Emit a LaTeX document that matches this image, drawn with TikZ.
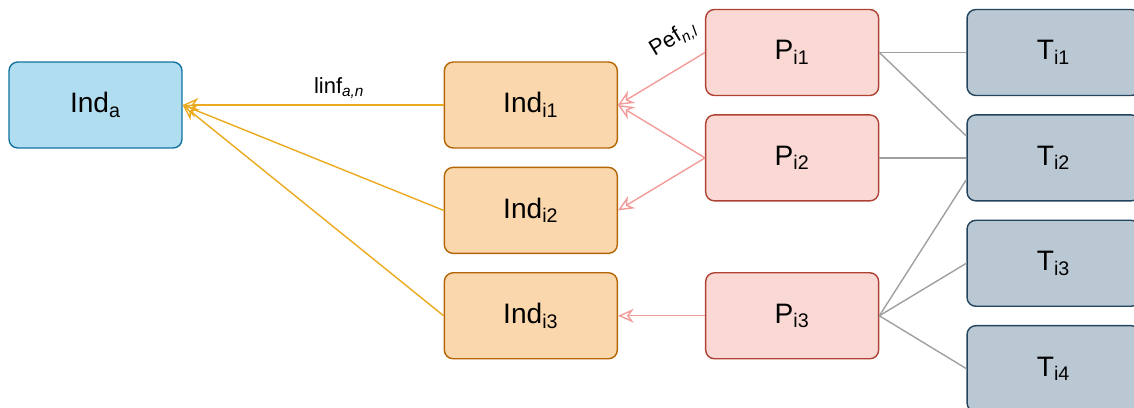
\documentclass[tikz,border=0pt]{standalone}
\usepackage{fontspec}
\setmainfont{Liberation Sans}
\usepackage{xcolor}
\usetikzlibrary{positioning,calc,arrows.meta}

\definecolor{bluefill}{HTML}{B1DDF0}
\definecolor{blueline}{HTML}{10739E}
\definecolor{orangefill}{HTML}{FAD7AC}
\definecolor{orangeline}{HTML}{B46504}
\definecolor{redfill}{HTML}{FAD9D5}
\definecolor{redline}{HTML}{AE4132}
\definecolor{slatefill}{HTML}{BAC8D3}
\definecolor{slateline}{HTML}{23445D}
\definecolor{infarrow}{HTML}{EBAA1F}
\definecolor{efarrow}{HTML}{F19C99}
\definecolor{linkgray}{HTML}{A0A0A0}

\begin{document}
\begin{tikzpicture}[
    x=0.02cm, y=-0.02cm,
    box/.style={rectangle, rounded corners=5pt, minimum width=3.46cm, minimum height=1.72cm, line width=0.8pt,
        font=\fontsize{16}{19}\selectfont, draw=#1line, fill=#1fill},
    box/.default=orange,
    arr/.style={-{Stealth[open, length=9pt, width=8pt]}, line width=0.8pt, color=#1},
    arr/.default=infarrow,
    link/.style={line width=0.8pt, color=linkgray},
    lbl/.style={font=\fontsize{12.5}{15}\selectfont, text=black},
    node distance=0.36cm and 1.74cm
]
    \useasboundingbox (0,0) rectangle (1134,408);

    % Aggregate indicator
    \node[box=blue] (inda) at (95.5,105) {Ind\textsubscript{a}};

    % Indicators
    \node[box, right=5.22cm of inda] (ind1) {Ind\textsubscript{i1}};
    \node[box, below=of ind1] (ind2) {Ind\textsubscript{i2}};
    \node[box, below=of ind2] (ind3) {Ind\textsubscript{i3}};

    % Processes
    \node[box=red, right=of ind1, yshift=1.05cm] (p1) {P\textsubscript{i1}};
    \node[box=red, below=of p1] (p2) {P\textsubscript{i2}};
    \node[box=red, right=of ind3] (p3) {P\textsubscript{i3}};

    % Tasks
    \node[box=slate, right=of p1] (t1) {T\textsubscript{i1}};
    \node[box=slate, below=of t1] (t2) {T\textsubscript{i2}};
    \node[box=slate, below=of t2] (t3) {T\textsubscript{i3}};
    \node[box=slate, below=of t3] (t4) {T\textsubscript{i4}};

    \coordinate (t2up) at ($(t2.north west)!0.25!(t2.south west)$);
    \coordinate (t2low) at ($(t2.north west)!0.75!(t2.south west)$);

    % Influence arrows
    \draw[arr] (ind1.west) -- node[lbl, above, pos=0.4] {linf\textsubscript{\itshape a,n}} (inda.east);
    \draw[arr] (ind2.west) -- (inda.east);
    \draw[arr] (ind3.west) -- (inda.east);

    % Effect arrows
    \draw[arr=efarrow] (p1.west) -- node[lbl, sloped, above=0.2cm, pos=0.2] {Pef\textsubscript{\itshape n,l}} (ind1.east);
    \draw[arr=efarrow] (p2.west) -- (ind1.east);
    \draw[arr=efarrow] (p2.west) -- (ind2.east);
    \draw[arr=efarrow] (p3.west) -- (ind3.east);

    % Process-task links
    \draw[link] (p1.east) -- (t1.west);
    \draw[link] (p1.east) -- (t2up);
    \draw[link] (p2.east) -- (t2.west);
    \draw[link] (p3.east) -- (t2low);
    \draw[link] (p3.east) -- (t3.west);
    \draw[link] (p3.east) -- (t4.west);

\end{tikzpicture}
\end{document}
